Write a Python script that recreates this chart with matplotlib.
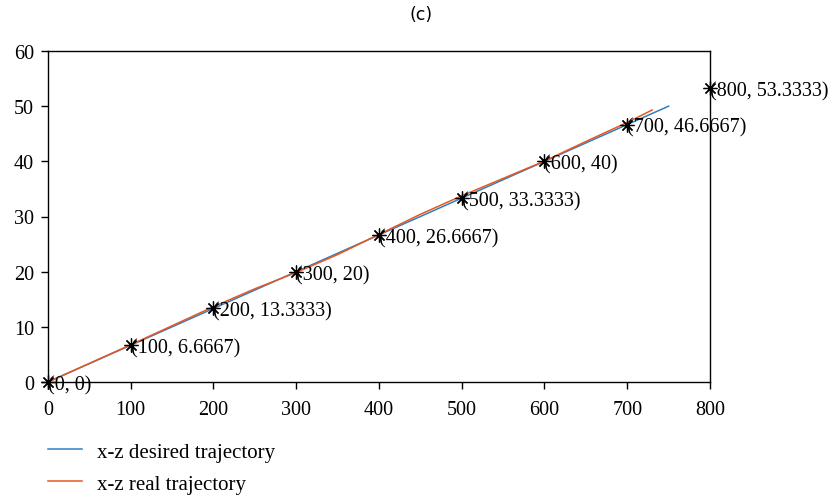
import matplotlib
matplotlib.use("Agg")
import matplotlib.pyplot as plt

# Data
desired_x = [0, 750]
desired_z = [0, 50]
real_x = [0, 100, 200, 250, 300, 350, 400, 450, 500, 550, 600, 650, 700, 730]
real_z = [0, 6.75, 13.65, 16.9, 19.85, 23.1, 26.75, 30.4, 33.75, 36.9, 40.05, 43.6, 47.05, 49.3]
mark_x = [0, 100, 200, 300, 400, 500, 600, 700, 800]
mark_z = [0, 6.6667, 13.3333, 20, 26.6667, 33.3333, 40, 46.6667, 53.3333]
mark_labels = ["(0, 0)", "(100, 6.6667)", "(200, 13.3333)", "(300, 20)",
               "(400, 26.6667)", "(500, 33.3333)", "(600, 40)",
               "(700, 46.6667)", "(800, 53.3333)"]
xticks = [0, 100, 200, 300, 400, 500, 600, 700, 800]
yticks = [0, 10, 20, 30, 40, 50, 60]

plt.rcParams['font.family'] = ['Liberation Serif', 'DejaVu Serif']

FS = 14.5
fig = plt.figure(figsize=(8.37, 5.02), dpi=100)
ax = fig.add_axes([48/837, 1-383/502, (710-48)/837, (383-52)/502])

l1, = ax.plot(desired_x, desired_z, color='#2f7fc1', lw=1.1, label='x-z desired trajectory')
l2, = ax.plot(real_x, real_z, color='#e8571e', lw=1.1, label='x-z real trajectory')
ax.plot(mark_x, mark_z, linestyle='none', marker=(8, 2, 0), markersize=10,
        color='black', markeredgewidth=0.9, clip_on=False, zorder=5)
for x, z, t in zip(mark_x, mark_z, mark_labels):
    ax.annotate(t, (x, z), xytext=(0, -2), textcoords='offset points',
                ha='left', va='center', fontsize=FS, annotation_clip=False)

ax.set_xlim(0, 800)
ax.set_ylim(0, 60)
ax.set_xticks(xticks)
ax.set_yticks(yticks)
ax.tick_params(axis='both', direction='out', length=5, width=1, labelsize=FS,
               top=False, right=False)
ax.tick_params(axis='x', pad=8)
ax.tick_params(axis='y', pad=5)
for s in ax.spines.values():
    s.set_linewidth(1.0)

fig.text(421/837, 1-15/502, "(c)", ha='center', va='center', fontsize=12.5,
         family=['DejaVu Sans'])

fig.legend(handles=[l1, l2], loc='upper left', bbox_to_anchor=(48/837, 1-443/502),
           frameon=False, fontsize=15, handlelength=1.65, handletextpad=0.7,
           labelspacing=0.6, borderpad=0, borderaxespad=0)

fig.savefig("out.png", dpi=100)
